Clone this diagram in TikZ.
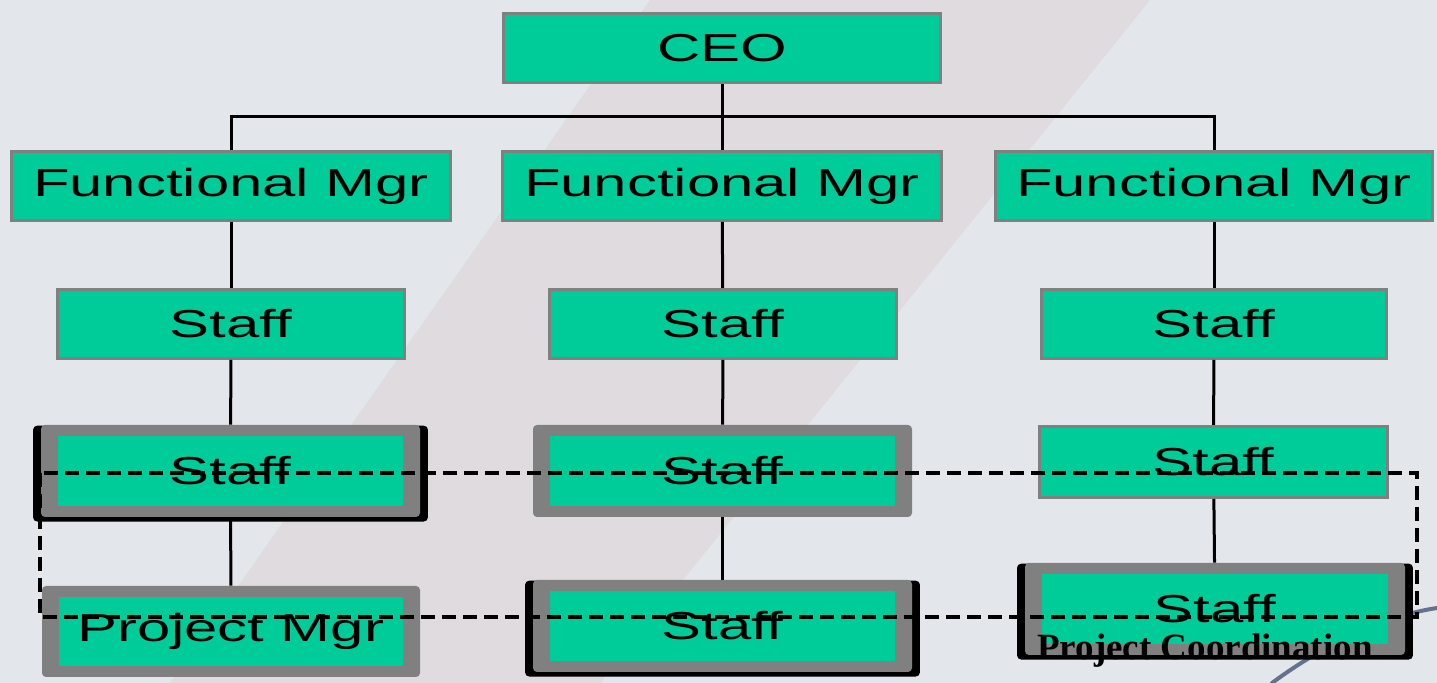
\documentclass[tikz,border=0pt]{standalone}
\usepackage{fontspec}
\usepackage{tikz}
\usetikzlibrary{shadows}
\newfontfamily\boxfont[FakeStretch=1.535]{Liberation Sans}
\newfontfamily\notefont{Liberation Serif}
\definecolor{boxgreen}{RGB}{0,204,153}
\definecolor{framegrey}{RGB}{128,128,128}
\definecolor{slidebg}{RGB}{227,230,235}
\definecolor{slideband}{RGB}{223,219,223}
\definecolor{swooshblue}{RGB}{70,85,120}
\newdimen\pxu \pxu=0.5pt
\tikzset{
    boxtext/.style={font=\boxfont\fontsize{19.5}{23}\selectfont},
    plainbox/.style={boxtext, draw=framegrey, fill=boxgreen, line width=3\pxu,
        minimum height=69\pxu, inner sep=0pt},
    framebox/.style={boxtext, fill=framegrey, rounded corners=4\pxu,
        minimum width=379\pxu, minimum height=92\pxu, inner sep=0pt,
        path picture={\fill[boxgreen, sharp corners]
            ([xshift=17\pxu,yshift=-11\pxu]path picture bounding box.north west) rectangle
            ([xshift=-17\pxu,yshift=11\pxu]path picture bounding box.south east);}},
    shadowbox/.style={framebox, general shadow={fill=black, shadow scale=1.042,
        shadow xshift=0pt, shadow yshift=-2.5\pxu}},
    link/.style={line width=3\pxu},
    coordline/.style={line width=3.2\pxu, dash pattern=on 14\pxu off 7\pxu}
}

\begin{document}
\begin{tikzpicture}[x=\pxu, y=-\pxu]
    \useasboundingbox (0,0) rectangle (1437,683);
    \fill[slidebg] (0,0) rectangle (1437,683);
    \fill[slideband] (650,0) -- (1150,0) -- (600,683) -- (170,683) -- cycle;
    \draw[swooshblue, opacity=0.8, line width=4\pxu, line cap=round]
        (1272,683) .. controls (1330,640) and (1390,615) .. (1437,608);

    \node[plainbox, minimum width=437\pxu] (ceo) at (722,48) {CEO};

    \node[plainbox, minimum width=439\pxu] (fm1) at (231,186) {Functional Mgr};
    \node[plainbox, minimum width=439\pxu] (fm2) at (722,186) {Functional Mgr};
    \node[plainbox, minimum width=437\pxu] (fm3) at (1214,186) {Functional Mgr};

    \node[plainbox, minimum width=347\pxu] (s11) at (231,324) {Staff};
    \node[plainbox, minimum width=347\pxu] (s21) at (723,324) {Staff};
    \node[plainbox, minimum width=345\pxu] (s31) at (1214,324) {Staff};

    \node[shadowbox] (s12) at (230.5,471) {Staff};
    \node[framebox] (s22) at (722.5,471) {Staff};
    \node[plainbox, minimum width=348\pxu, minimum height=71\pxu] (s32) at (1213.5,462) {Staff};

    \node[framebox, minimum width=378\pxu, minimum height=91\pxu] (pm) at (231,631.5) {Project Mgr};
    \node[shadowbox] (s23) at (722.5,626) {Staff};
    \node[shadowbox, minimum width=380\pxu] (s33) at (1215,609) {Staff};

    \coordinate (bus) at (722,117);
    \draw[link] (ceo) -- (fm2);
    \draw[link] (fm1.north) |- (bus) -| (fm3.north);
    \draw[link] (fm1) -- (s11);
    \draw[link] (s11) -- (s12);
    \draw[link] (s12) -- (pm);
    \draw[link] (fm2) -- (s21);
    \draw[link] (s21) -- (s22);
    \draw[link] (s22) -- (s23);
    \draw[link] (fm3) -- (s31);
    \draw[link] (s31) -- (s32);
    \draw[link] (s32) -- (s33);

    \draw[coordline] (40,473) rectangle (1417,617);
    \node[font=\notefont\bfseries\fontsize{18.5}{20}\selectfont, inner sep=0pt,
        anchor=base] (coord) at (1205,660) {Project Coordination};
\end{tikzpicture}
\end{document}
